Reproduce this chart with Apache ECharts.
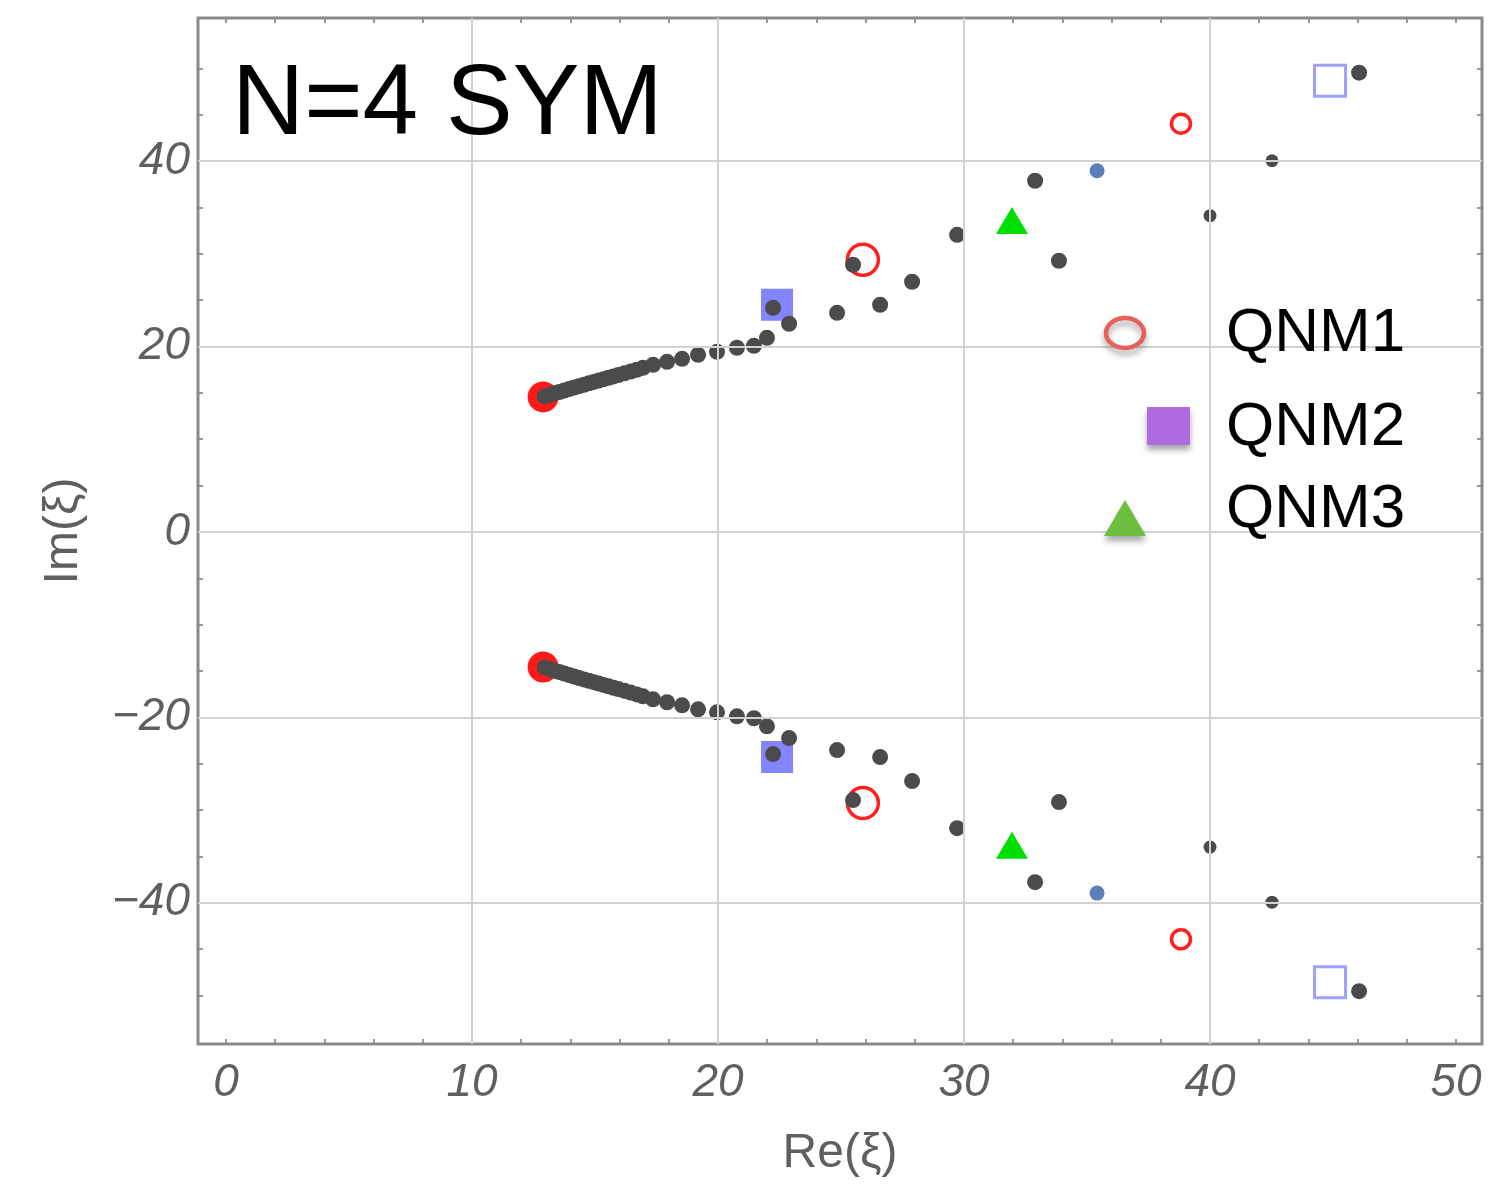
<!DOCTYPE html>
<html>
<head>
<meta charset="utf-8">
<script src="https://cdn.jsdelivr.net/npm/echarts@6/dist/echarts.min.js"></script>
<style>html,body{margin:0;padding:0;background:#fff}#c{width:1496px;height:1184px}</style>
</head>
<body>
<div id="c"></div>
<script>
// ---- data ----
const xTickLabels = [0, 10, 20, 30, 40, 50];
const xAllTicks = [0, 2, 4, 6, 8, 10, 12, 14, 16, 18, 20, 22, 24, 26, 28, 30, 32, 34, 36, 38, 40, 42, 44, 46, 48, 50];
const yTickLabels = [-40, -20, 0, 20, 40];
const yAllTicks = [-50, -45, -40, -35, -30, -25, -20, -15, -10, -5, 0, 5, 10, 15, 20, 25, 30, 35, 40, 45, 50];
const xGrid = [10, 20, 30, 40];
const yGrid = [-40, -20, 0, 20, 40];

const chainUpper = [[12.95,14.62],[13.15,14.78],[13.35,14.95],[13.55,15.1],[13.75,15.26],[13.95,15.42],[14.15,15.57],[14.35,15.73],[14.55,15.88],[14.75,16.03],[14.95,16.18],[15.15,16.33],[15.35,16.48],[15.55,16.63],[15.75,16.78],[15.95,16.93],[16.2,17.11],[16.45,17.3],[16.7,17.5],[16.95,17.71],[17.36,18.03],[17.93,18.35],[18.54,18.68],[19.19,19.11],[19.96,19.43],[20.77,19.87],[21.46,20.08],[21.99,20.94],[22.89,22.46],[22.24,24.18]];
const chainLower = [[12.95,-14.62],[13.15,-14.8],[13.35,-14.97],[13.55,-15.12],[13.75,-15.28],[13.95,-15.44],[14.15,-15.6],[14.35,-15.76],[14.55,-15.91],[14.75,-16.06],[14.95,-16.21],[15.15,-16.36],[15.35,-16.51],[15.55,-16.66],[15.75,-16.81],[15.95,-16.96],[16.2,-17.14],[16.45,-17.33],[16.7,-17.53],[16.95,-17.74],[17.36,-18.06],[17.93,-18.38],[18.54,-18.71],[19.19,-19.14],[19.96,-19.46],[20.77,-19.9],[21.46,-20.1],[21.99,-20.97],[22.89,-22.24],[22.24,-23.97]];
const grayLargeUpper = [[24.84,23.64],[25.49,28.83],[26.59,24.51],[27.89,26.99],[29.72,32.06],[32.89,37.89],[33.86,29.26],[46.06,49.55]];
const grayLargeLower = [[24.84,-23.54],[25.49,-28.93],[26.59,-24.29],[27.89,-26.88],[29.72,-31.96],[32.89,-37.79],[33.86,-29.15],[46.06,-49.55]];
const graySmallUpper = [[40.0,34.12],[42.52,40.05]];
const graySmallLower = [[40.0,-34.0],[42.52,-39.95]];
const bluePoints = [[35.41,38.97],[35.41,-38.97]];
const startPoints = [[12.89,14.57],[12.89,-14.57]];
const qnm1Large = [[25.89,29.37],[25.89,-29.26]];
const qnm1Small = [[38.82,44.05],[38.82,-43.94]];
const qnm2Filled = [[22.4,24.51],[22.4,-24.29]];
const qnm2Open = [[44.88,48.69],[44.88,-48.58]];
const qnm3Points = [[31.95,33.6],[31.95,-33.8]];
const legendNames = ['QNM1', 'QNM2', 'QNM3'];
const titleText = 'N=4 SYM';

// ---- chart ----
const chart = echarts.init(document.getElementById('c'), null, {renderer: 'canvas'});
const X_MIN = -1.138, X_MAX = 51.057, Y_MIN = -55.25, Y_MAX = 55.45;
const labelColor = '#5f5f5f';
const tickColor = '#7a7a7a';
const fmt = v => String(v).replace('-', '\u2212');

function xAxisDef(pos, labels) {
  return {
    type: 'value', min: X_MIN, max: X_MAX, position: pos,
    axisLine: {show: false, onZero: false}, splitLine: {show: false},
    axisTick: {show: true, inside: true, length: 5, customValues: xAllTicks, lineStyle: {color: tickColor, width: 1.5}},
    axisLabel: labels ? {show: true, customValues: xTickLabels, formatter: fmt, fontFamily: 'Liberation Sans', fontStyle: 'italic', fontSize: 46, color: labelColor, margin: 16} : {show: false}
  };
}
function yAxisDef(pos, labels) {
  return {
    type: 'value', min: Y_MIN, max: Y_MAX, position: pos,
    axisLine: {show: false, onZero: false}, splitLine: {show: false},
    axisTick: {show: true, inside: true, length: 5, customValues: yAllTicks, lineStyle: {color: tickColor, width: 1.5}},
    axisLabel: labels ? {show: true, customValues: yTickLabels, formatter: fmt, fontFamily: 'Liberation Sans', fontStyle: 'italic', fontSize: 46, color: labelColor, margin: 8} : {show: false}
  };
}

const xAxes = [
  Object.assign(xAxisDef('bottom', true), {name: 'Re(\u03be)', nameLocation: 'middle', nameGap: 86, nameTextStyle: {fontFamily: 'Liberation Sans', fontSize: 48, color: labelColor}}),
  xAxisDef('top', false)
];
const yAxes = [
  Object.assign(yAxisDef('left', true), {name: 'Im(\u03be)', nameLocation: 'middle', nameGap: 110, nameTextStyle: {fontFamily: 'Liberation Sans', fontSize: 48, color: labelColor}}),
  yAxisDef('right', false)
];

function sc(name, data, opts) {
  return Object.assign({type: 'scatter', name: name, data: data, xAxisIndex: 0, yAxisIndex: 0, silent: true, animation: false, z: 3}, opts);
}

const gray = '#4b4b4b';
const series = [
  sc('grid', [], {z: 1, markLine: {silent: true, symbol: 'none', label: {show: false}, animation: false,
    lineStyle: {color: '#d2d2d2', width: 2, type: 'solid'},
    data: xGrid.map(v => ({xAxis: v})).concat(yGrid.map(v => ({yAxis: v})))}}),
  sc('start', startPoints, {symbol: 'circle', symbolSize: 31, itemStyle: {color: '#ff1a1a', opacity: 1}}),
  sc('QNM1', qnm1Large, {symbol: 'circle', symbolSize: 31, itemStyle: {color: 'rgba(255,255,255,0)', borderColor: '#ff2020', borderWidth: 3.5, opacity: 1}}),
  sc('QNM1s', qnm1Small, {symbol: 'circle', symbolSize: 19, itemStyle: {color: 'rgba(255,255,255,0)', borderColor: '#ff2020', borderWidth: 3.5, opacity: 1}}),
  sc('QNM2', qnm2Filled, {symbol: 'rect', symbolSize: 32, itemStyle: {color: '#8484ff', opacity: 1}}),
  sc('QNM2o', qnm2Open, {symbol: 'rect', symbolSize: 31, itemStyle: {color: 'rgba(255,255,255,0)', borderColor: '#a0a0ff', borderWidth: 3, opacity: 1}}),
  sc('QNM3', qnm3Points, {symbol: 'triangle', symbolSize: [32, 27], itemStyle: {color: '#00e000', opacity: 1}}),
  sc('chainU', chainUpper, {symbolSize: 16, itemStyle: {color: gray, opacity: 1}}),
  sc('chainL', chainLower, {symbolSize: 16, itemStyle: {color: gray, opacity: 1}}),
  sc('grayLU', grayLargeUpper, {symbolSize: 16, itemStyle: {color: gray, opacity: 1}}),
  sc('grayLL', grayLargeLower, {symbolSize: 16, itemStyle: {color: gray, opacity: 1}}),
  sc('graySU', graySmallUpper, {symbolSize: 13, itemStyle: {color: gray, opacity: 1}}),
  sc('graySL', graySmallLower, {symbolSize: 13, itemStyle: {color: gray, opacity: 1}}),
  sc('blue', bluePoints, {symbolSize: 15, itemStyle: {color: '#5a80b8', opacity: 1}})
];

const shadow = {shadowBlur: 6, shadowOffsetY: 5, shadowColor: 'rgba(0,0,0,0.35)'};
const legendFont = {fontFamily: 'Liberation Sans', fontSize: 62, fill: '#000', verticalAlign: 'middle', align: 'left'};
const graphic = [
  {type: 'text', x: 232, y: 106, style: {text: titleText, fontFamily: 'Liberation Sans', fontSize: 100, fill: '#000', verticalAlign: 'middle', align: 'left'}, silent: true, z: 10},
  {type: 'ellipse', shape: {cx: 1125, cy: 333, rx: 19, ry: 15}, style: Object.assign({fill: 'none', stroke: '#e8605a', lineWidth: 4.5}, shadow), z: 10, silent: true},
  {type: 'rect', shape: {x: 1147, y: 407, width: 43, height: 38}, style: Object.assign({fill: '#b06ae0'}, shadow), z: 10, silent: true},
  {type: 'polygon', shape: {points: [[1125, 500], [1146, 536], [1104, 536]]}, style: Object.assign({fill: '#6dbf3f'}, shadow), z: 10, silent: true},
  {type: 'text', x: 1226, y: 334, style: Object.assign({text: legendNames[0]}, legendFont), z: 10, silent: true},
  {type: 'text', x: 1226, y: 428, style: Object.assign({text: legendNames[1]}, legendFont), z: 10, silent: true},
  {type: 'text', x: 1226, y: 510, style: Object.assign({text: legendNames[2]}, legendFont), z: 10, silent: true}
];

chart.setOption({
  animation: false,
  backgroundColor: '#fff',
  grid: {left: 198, top: 18, right: 14, bottom: 140, show: true, borderColor: '#8a8a8a', borderWidth: 3, backgroundColor: 'transparent', z: 4},
  xAxis: xAxes,
  yAxis: yAxes,
  series: series,
  graphic: graphic
});
</script>
</body>
</html>
